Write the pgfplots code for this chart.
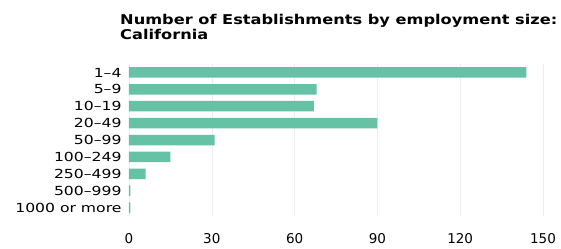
\documentclass[border=0pt]{standalone}
\usepackage{fontspec}
\setmainfont{DejaVu Sans}
\newfontfamily\ylabfont[FakeStretch=1.25,Ligatures=TeX]{DejaVu Sans}
\newfontfamily\titlefont[FakeStretch=1.2]{DejaVu Sans Bold}
\usepackage{pgfplots}
\pgfplotsset{compat=1.18}
\definecolor{barcol}{RGB}{102,194,165}
\begin{document}
\begin{tikzpicture}
\useasboundingbox (-129bp,-33bp) rectangle (432bp,216bp);
\node[anchor=north west, align=left, inner sep=0pt, font=\titlefont\fontsize{13.5bp}{15bp}\selectfont] at (-9bp,202bp) {Number of Establishments by employment size:\\California};
\begin{axis}[
  at={(0,0)}, anchor=south west,
  scale only axis,
  width=414bp, height=152bp,
  xbar, bar width=10.5bp,
  xmin=0, xmax=150,
  ymin=-0.5, ymax=8.5,
  y dir=reverse,
  ytick={0,...,8},
  yticklabels={1--4,5--9,10--19,20--49,50--99,100--249,250--499,500--999,1000 or more},
  xtick={0,30,60,90,120,150},
  axis line style={draw=none},
  major tick length=0pt,
  xmajorgrids, grid style={black!7, line width=0.6pt},
  ymajorgrids=false,
  xticklabel style={font=\fontsize{13.5bp}{14bp}\selectfont, yshift=-14bp},
  yticklabel style={font=\ylabfont\fontsize{12.5bp}{13bp}\selectfont, xshift=-4bp},
  /pgf/number format/assume math mode=true,
  clip=false,
]
\addplot[draw=none, fill=barcol] coordinates {
  (144,0) (68,1) (67,2) (90,3) (31,4) (15,5) (6,6) (0.5,7) (0.5,8)
};
\end{axis}
\end{tikzpicture}
\end{document}
